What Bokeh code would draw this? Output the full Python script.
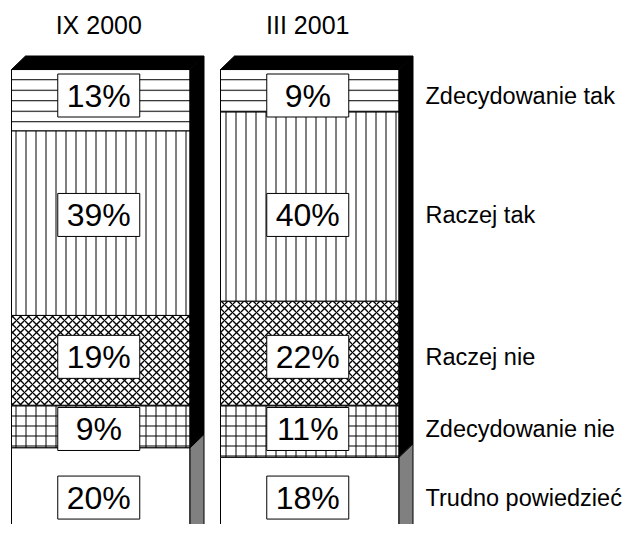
from bokeh.plotting import figure
from bokeh.models import Range1d, ColumnDataSource
from bokeh.core.properties import value
from bokeh.embed import file_html
from bokeh.resources import INLINE

# ---------------- data ----------------
periods = ["IX 2000", "III 2001"]
categories = ["Zdecydowanie tak", "Raczej tak", "Raczej nie",
              "Zdecydowanie nie", "Trudno powiedzieć"]
ix2000 = [13, 39, 19, 9, 20]
iii2001 = [9, 40, 22, 11, 18]
series = [ix2000, iii2001]

# ---------------- styles / layout ----------------
hatch_patterns = ["-", "|", "x", "+", " "]
hatch_scales = [10.5, 10, 8, 10, 10]
hatch_weights = [1, 1, 1.3, 1, 1]
FONT = "Liberation Sans"

W, H = 628, 524
PX_PER_PCT = 4.73
TOP_PX = 69
y_hi = 100 + TOP_PX / PX_PER_PCT
y_lo = y_hi - H / PX_PER_PCT

bar_left = [11, 220]
bar_w = 178.5
DX = 14
DY = 13.5 / PX_PER_PCT
LABEL_X = 425
BOX_W, BOX_H = 82, 43

p = figure(width=W, height=H, output_backend="svg", toolbar_location=None,
           x_range=Range1d(0, W), y_range=Range1d(y_lo, y_hi),
           min_border=0, min_border_left=0, min_border_right=0,
           min_border_top=0, min_border_bottom=0)
p.axis.visible = False
p.xgrid.visible = False
p.ygrid.visible = False
p.outline_line_color = None
p.background_fill_color = "white"
p.border_fill_color = "white"

# segments
mids = [[] for _ in categories]
top_of_last = []
quads = [dict(left=[], right=[], top=[], bottom=[]) for _ in categories]
for b, vals in enumerate(series):
    cur = 100.0
    l = bar_left[b]
    r = l + bar_w
    for i, v in enumerate(vals):
        t, bt = cur, cur - v
        q = quads[i]
        q["left"].append(l); q["right"].append(r)
        q["top"].append(t); q["bottom"].append(bt)
        mids[i].append((t + bt) / 2)
        if i == len(vals) - 1:
            top_of_last.append(t)
        cur = bt

for i in range(len(categories)):
    kw = {}
    if hatch_patterns[i].strip():
        kw = dict(hatch_pattern=hatch_patterns[i], hatch_color="black",
                  hatch_scale=hatch_scales[i], hatch_weight=hatch_weights[i])
    p.quad(left="left", right="right", top="top", bottom="bottom",
           source=ColumnDataSource(quads[i]),
           fill_color="white", line_color="black", line_width=1, **kw)

# 3D faces
bx, by, gx, gy = [], [], [], []
for b in range(len(series)):
    l = bar_left[b]
    r = l + bar_w
    T = top_of_last[b]
    bx.append([l, l + DX, r + DX, r]); by.append([100, 100 + DY, 100 + DY, 100])
    bx.append([r, r + DX, r + DX, r]); by.append([100, 100 + DY, T + DY, T])
    gx.append([r, r + DX, r + DX, r]); gy.append([T, T + DY, 0 + DY, 0])
p.patches(bx, by, fill_color="black", line_color="black", line_width=1)
p.patches(gx, gy, fill_color="#808080", line_color="black", line_width=1)

# boxes with percentages, aligned per row
row_y = [sum(m) / len(m) for m in mids]
bx_x, bx_y, bx_t = [], [], []
for b, vals in enumerate(series):
    cx = bar_left[b] + bar_w / 2 - 2
    for i, v in enumerate(vals):
        bx_x.append(cx); bx_y.append(row_y[i]); bx_t.append(f"{v}%")
p.rect(x=bx_x, y=bx_y, width=BOX_W, height=BOX_H, width_units="screen",
       height_units="screen", fill_color="white", line_color="black", line_width=1)
p.text(x=bx_x, y=bx_y, text=bx_t, text_align="center", text_baseline="middle",
       text_font=value(FONT), text_font_size="32px", text_color="black")

# category labels
p.text(x=[LABEL_X] * len(categories), y=row_y, text=categories,
       text_align="left", text_baseline="middle",
       text_font=value(FONT), text_font_size="23.5px", text_color="black")

# period titles
title_y = 100 + (TOP_PX - 24) / PX_PER_PCT
p.text(x=[bar_left[b] + bar_w / 2 - 2 for b in range(len(periods))], y=[title_y] * len(periods),
       text=periods, text_align="center", text_baseline="middle",
       text_font=value(FONT), text_font_size="25px", text_color="black")

open("out.html", "w").write(file_html(p, INLINE))
